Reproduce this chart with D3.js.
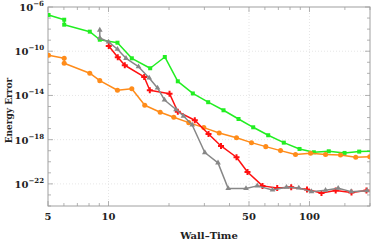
<!DOCTYPE html>
<html>
<head>
<meta charset="utf-8">
<script src="https://d3js.org/d3.v7.min.js"></script>
<style>
body { margin: 0; background: #fff; }
svg { display: block; }
</style>
</head>
<body>
<div id="chart"></div>
<script>
// wall-time values and log10(energy error) per run
var greenTime = [5.03, 6.02, 6.02, 8.07, 9.05, 11.08, 13.06, 16.12, 19.06, 22.12, 26.27, 31.33, 37.34, 44.35, 52.47, 62.31, 74.5, 89.2, 105.1, 124.7, 149.4, 176.7, 208];
var greenErr = [-6.72, -7.15, -7.60, -8.23, -8.96, -9.23, -10.64, -11.54, -10.52, -12.72, -13.82, -14.61, -15.34, -16.13, -16.88, -17.60, -18.27, -18.84, -19.14, -19.05, -19.20, -19.08, -19.05];

var orangeTime = [5.03, 6.02, 6.02, 8.07, 9.05, 11.08, 13.06, 15.15, 18.08, 21.13, 25.08, 29.8, 35.54, 43.34, 51.45, 60.6, 71.75, 85.2, 101.2, 120.2, 142.7, 169.9, 199.5];
var orangeErr = [-10.37, -10.64, -11.09, -11.99, -12.66, -13.53, -13.39, -14.89, -15.52, -15.97, -16.46, -16.91, -17.39, -17.82, -18.27, -18.63, -18.99, -19.35, -19.23, -19.35, -19.38, -19.59, -19.54];

var redTime = [10.03, 11.12, 12.05, 15.05, 16.05, 20.12, 22.12, 26.88, 31.45, 36.29, 43.34, 49.15, 58.38, 69.09, 81.1, 97.2, 114.7, 135, 161.8, 192.1];
var redErr = [-9.53, -10.55, -11.27, -12.33, -13.53, -13.84, -15.47, -16.24, -17.48, -18.57, -19.59, -20.92, -22.18, -22.37, -22.30, -22.50, -22.82, -22.59, -22.77, -22.59];

var grayTime = [9.05, 9.05, 10.0, 11.08, 12.22, 14.1, 15.94, 17.53, 18.99, 21.67, 23.61, 26.09, 30.14, 35.06, 39.4, 48.32, 54.93, 65.46, 76.84, 88.47, 102.3, 120.2, 138.9, 161.2, 193.6];
var grayErr = [-8.08, -8.80, -9.16, -9.82, -10.64, -11.40, -12.42, -13.32, -14.41, -15.27, -15.86, -16.67, -19.16, -20.10, -22.41, -22.41, -22.18, -22.55, -22.30, -22.37, -22.70, -22.57, -22.39, -22.70, -22.61];

var xTicks = [5, 10, 50, 100];
var xMinor = [6, 7, 8, 9, 20, 30, 40, 60, 70, 80, 90, 150, 200];
var yTicks = [-6, -10, -14, -18, -22];

var W = 374, H = 244;
var margin = {top: 7, right: 4, bottom: 38, left: 48};
var width = W - margin.left - margin.right,
    height = H - margin.top - margin.bottom;

var svg = d3.select("#chart").append("svg").attr("width", W).attr("height", H);
var g = svg.append("g").attr("transform", "translate(" + margin.left + "," + margin.top + ")");

var x = d3.scaleLog().domain([5, 200]).range([0, width]);
var y = d3.scaleLog().domain([1e-24, 1e-6]).range([height, 0]);

var font = "'DejaVu Serif', serif";

g.append("clipPath").attr("id", "clip")
    .append("rect").attr("width", width).attr("height", height);

// grid
g.selectAll(".gx").data(xTicks.slice(1)).enter().append("line")
    .attr("x1", function (d) { return x(d); }).attr("x2", function (d) { return x(d); })
    .attr("y1", 0).attr("y2", height)
    .style("stroke", "#e0e0e0").style("stroke-width", 0.8).style("stroke-dasharray", "1,2");
g.selectAll(".gy").data(yTicks.slice(1)).enter().append("line")
    .attr("y1", function (d) { return y(Math.pow(10, d)); }).attr("y2", function (d) { return y(Math.pow(10, d)); })
    .attr("x1", 0).attr("x2", width)
    .style("stroke", "#e0e0e0").style("stroke-width", 0.8).style("stroke-dasharray", "1,2");

// frame
g.append("rect").attr("width", width).attr("height", height)
    .style("fill", "none").style("stroke", "#a0a0a0").style("stroke-width", 1);

// ticks inside the frame, all four sides
function xTickMarks(vals, len) {
    vals.forEach(function (d) {
        var px = x(d);
        g.append("line").attr("x1", px).attr("x2", px).attr("y1", height).attr("y2", height - len)
            .style("stroke", "#a0a0a0").style("stroke-width", 0.8);
        g.append("line").attr("x1", px).attr("x2", px).attr("y1", 0).attr("y2", len)
            .style("stroke", "#a0a0a0").style("stroke-width", 0.8);
    });
}
xTickMarks(xTicks, 5);
xTickMarks(xMinor, 3);
d3.range(-24, -5).forEach(function (e) {
    var py = y(Math.pow(10, e));
    var len = yTicks.indexOf(e) >= 0 ? 5 : 3;
    g.append("line").attr("x1", 0).attr("x2", len).attr("y1", py).attr("y2", py)
        .style("stroke", "#a0a0a0").style("stroke-width", 0.8);
    g.append("line").attr("x1", width).attr("x2", width - len).attr("y1", py).attr("y2", py)
        .style("stroke", "#a0a0a0").style("stroke-width", 0.8);
});

// tick labels
g.selectAll(".xl").data(xTicks).enter().append("text")
    .attr("x", function (d) { return x(d); })
    .attr("y", height + 14)
    .attr("text-anchor", "middle")
    .style("font-family", font).style("font-weight", "bold").style("font-size", "10px").style("fill", "#222")
    .text(function (d) { return d; });

var yl = g.selectAll(".yl").data(yTicks).enter().append("text")
    .attr("x", -4)
    .attr("y", function (d) { return y(Math.pow(10, d)) + 4; })
    .attr("text-anchor", "end")
    .style("font-family", font).style("font-weight", "bold").style("font-size", "10px").style("fill", "#222");
yl.append("tspan").text("10");
yl.append("tspan").attr("dy", -5).style("font-size", "7px").text(function (d) { return "\u2212" + (-d); });

// axis titles
svg.append("text")
    .attr("x", margin.left + width / 2).attr("y", 239)
    .attr("text-anchor", "middle")
    .style("font-family", font).style("font-weight", "bold").style("font-size", "10px").style("fill", "#222")
    .text("Wall\u2013Time");
svg.append("text")
    .attr("transform", "translate(12," + (margin.top + height / 2 + 4) + ") rotate(-90)")
    .attr("text-anchor", "middle")
    .style("font-family", font).style("font-weight", "bold").style("font-size", "9px").style("fill", "#222")
    .text("Energy Error");

// series
var series = [
    {t: greenTime, e: greenErr, color: "#22ee22", sym: d3.symbolSquare, size: 16},
    {t: orangeTime, e: orangeErr, color: "#ff8c1a", sym: d3.symbolCircle, size: 20},
    {t: redTime, e: redErr, color: "#ff1010", sym: d3.symbolCross, size: 20},
    {t: grayTime, e: grayErr, color: "#878787", sym: d3.symbolTriangle, size: 14}
];

var line = d3.line()
    .x(function (d) { return x(d[0]); })
    .y(function (d) { return y(Math.pow(10, d[1])); });

var plot = g.append("g").attr("clip-path", "url(#clip)");

series.forEach(function (s) {
    var pts = s.t.map(function (t, i) { return [t, s.e[i]]; });
    plot.append("path").datum(pts)
        .attr("d", line)
        .style("fill", "none").style("stroke", s.color).style("stroke-width", 1.5)
        .style("stroke-linejoin", "round");
    plot.selectAll(null).data(pts).enter().append("path")
        .attr("transform", function (d) { return "translate(" + x(d[0]) + "," + y(Math.pow(10, d[1])) + ")"; })
        .attr("d", d3.symbol().type(s.sym).size(s.size))
        .style("fill", s.color);
});
</script>
</body>
</html>
